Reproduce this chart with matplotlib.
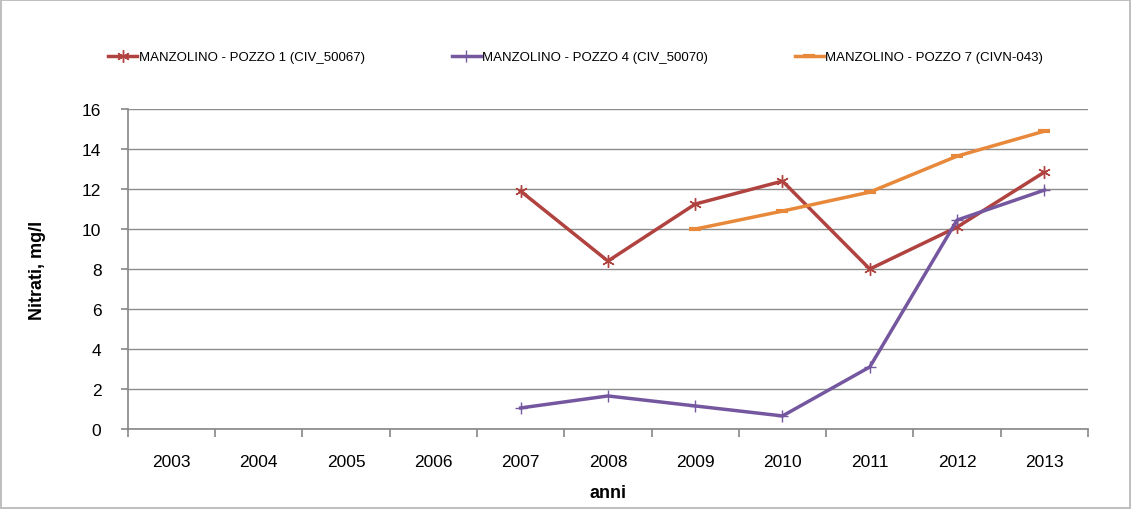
import matplotlib
matplotlib.use("Agg")
import matplotlib.pyplot as plt
import numpy as np

years = ["2003", "2004", "2005", "2006", "2007", "2008", "2009", "2010", "2011", "2012", "2013"]
nan = np.nan
pozzo1 = [nan, nan, nan, nan, 11.9, 8.4, 11.25, 12.4, 8.0, 10.1, 12.85]
pozzo4 = [nan, nan, nan, nan, 1.05, 1.65, 1.15, 0.65, 3.1, 10.45, 11.95]
pozzo7 = [nan, nan, nan, nan, nan, nan, 10.0, 10.9, 11.85, 13.65, 14.9]
labels = ["MANZOLINO - POZZO 1 (CIV_50067)",
          "MANZOLINO - POZZO 4 (CIV_50070)",
          "MANZOLINO - POZZO 7 (CIVN-043)"]

plt.rcParams['font.family'] = ['Liberation Sans', 'DejaVu Sans']

fig = plt.figure(figsize=(11.31, 5.10), dpi=100)
fig.patch.set_edgecolor('#BFBFBF')
fig.patch.set_linewidth(1.5)
ax = fig.add_axes([0.113, 0.157, 0.849, 0.627])

x = np.arange(len(years))
l1, = ax.plot(x, pozzo1, color='#B0423F', lw=2.5, marker=(6, 2, 0), ms=9, mew=1.0, label=labels[0])
l2, = ax.plot(x, pozzo4, color='#7557A0', lw=2.5, marker='+', ms=9, mew=1.0, label=labels[1])
l3, = ax.plot(x, pozzo7, color='#E8883A', lw=2.5, marker='_', ms=9, mew=3, label=labels[2])

ax.set_xlim(-0.5, len(years) - 0.5)
ax.set_ylim(0, 16)
ax.set_yticks(np.arange(0, 17, 2))
ax.set_xticks(x)
ax.set_xticklabels(years)
ax.set_xticks(np.arange(-0.5, len(years), 1), minor=True)
ax.tick_params(axis='x', which='major', length=0, labelsize=12.5, pad=18)
ax.tick_params(axis='x', which='minor', length=6, color='#868686', width=1.2)
ax.tick_params(axis='y', length=5, color='#868686', width=1.2, labelsize=12.5, pad=14)
ax.yaxis.grid(True, color='#8C8C8C', lw=1)
ax.set_axisbelow(True)
for s in ['top', 'right']:
    ax.spines[s].set_visible(False)
for s in ['left', 'bottom']:
    ax.spines[s].set_color('#868686')
    ax.spines[s].set_linewidth(1.2)

ax.set_xlabel('anni', fontsize=13, fontweight='bold', labelpad=11)
ax.set_ylabel('Nitrati, mg/l', fontsize=13, fontweight='bold', labelpad=26)

fig.legend(handles=[l1, l2, l3], loc='center', bbox_to_anchor=(0.509, 0.886), ncol=3,
           frameon=False, fontsize=9.5, handlelength=2.2, handletextpad=0.1,
           columnspacing=6.6)

fig.savefig('out.png', dpi=100, edgecolor=fig.get_edgecolor())
